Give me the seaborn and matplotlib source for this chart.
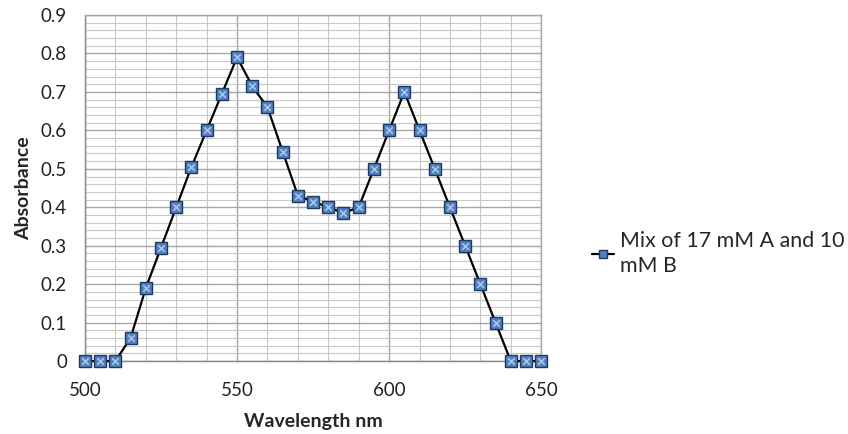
import numpy as np
import pandas as pd
import matplotlib
matplotlib.use("Agg")
import matplotlib.pyplot as plt
import seaborn as sns
from matplotlib.lines import Line2D
from matplotlib.ticker import MultipleLocator

wavelength = [500, 505, 510, 515, 520, 525, 530, 535, 540, 545, 550, 555, 560, 565,
              570, 575, 580, 585, 590, 595, 600, 605, 610, 615, 620, 625, 630, 635,
              640, 645, 650]
absorbance = [0, 0, 0, 0.06, 0.19, 0.295, 0.40, 0.505, 0.60, 0.695, 0.79, 0.715, 0.66, 0.545,
              0.43, 0.415, 0.40, 0.385, 0.40, 0.50, 0.60, 0.70, 0.60, 0.50, 0.40, 0.30, 0.20, 0.10,
              0, 0, 0]
x_ticks = [500, 550, 600, 650]
y_ticks = [0, 0.1, 0.2, 0.3, 0.4, 0.5, 0.6, 0.7, 0.8, 0.9]
series_label = "Mix of 17 mM A and 10\nmM B"

df = pd.DataFrame({"Wavelength": wavelength, "Absorbance": absorbance})

sns.set_style("white")
plt.rcParams['font.family'] = ['Lato', 'DejaVu Sans']

fig = plt.figure(figsize=(8.48, 4.34), dpi=100)
ax = fig.add_axes([0.1002, 0.168, 0.538, 0.7974])

face = '#4F81BD'
edge = '#1F3864'

sns.lineplot(data=df, x="Wavelength", y="Absorbance", ax=ax, color='black', lw=1.6,
             marker='s', markersize=8, markerfacecolor=face, markeredgecolor=edge,
             markeredgewidth=1.0, zorder=3, legend=False, clip_on=False)
sns.scatterplot(data=df, x="Wavelength", y="Absorbance", ax=ax, marker='x', s=22,
                color='#A9C4E8', linewidth=1.2, zorder=4, legend=False, clip_on=False)

ax.set_xlim(500, 650)
ax.set_ylim(0, 0.9)
ax.set_xticks(x_ticks)
ax.set_yticks(y_ticks)
ax.set_yticklabels(["0" if v == 0 else f"{v:.1f}" for v in y_ticks])
ax.xaxis.set_minor_locator(MultipleLocator(10))
ax.yaxis.set_minor_locator(MultipleLocator(0.02))
ax.grid(which='major', color='#A6A6A6', lw=1.0, zorder=0)
ax.grid(which='minor', color='#C8C8C8', lw=0.8, zorder=0)
ax.set_axisbelow(True)

for s in ['top', 'right']:
    ax.spines[s].set_color('#A6A6A6')
    ax.spines[s].set_linewidth(1.0)
for s in ['left', 'bottom']:
    ax.spines[s].set_color('#868686')
    ax.spines[s].set_linewidth(1.0)

ax.tick_params(axis='both', which='major', length=5, width=1, color='#868686',
               labelsize=13.5, labelcolor='#222222', direction='out')
ax.tick_params(axis='both', which='minor', length=0)
ax.tick_params(axis='x', pad=10)
ax.tick_params(axis='y', pad=8)

ax.set_xlabel("Wavelength nm", fontsize=14, fontweight='bold', labelpad=10)
ax.set_ylabel("Absorbance", fontsize=14, fontweight='bold', labelpad=6)

handle = Line2D([0], [0], color='black', lw=1.6, marker='s', markersize=6,
                markerfacecolor=face, markeredgecolor=edge)
leg = fig.legend([handle], [series_label], loc='upper left', bbox_to_anchor=(0.676, 0.512),
                 frameon=False, fontsize=15.4, handlelength=1.0, handletextpad=0.3,
                 labelspacing=0.2, borderpad=0.4)
for t in leg.get_texts():
    t.set_linespacing(1.3)

fig.savefig("out.png", dpi=100)
